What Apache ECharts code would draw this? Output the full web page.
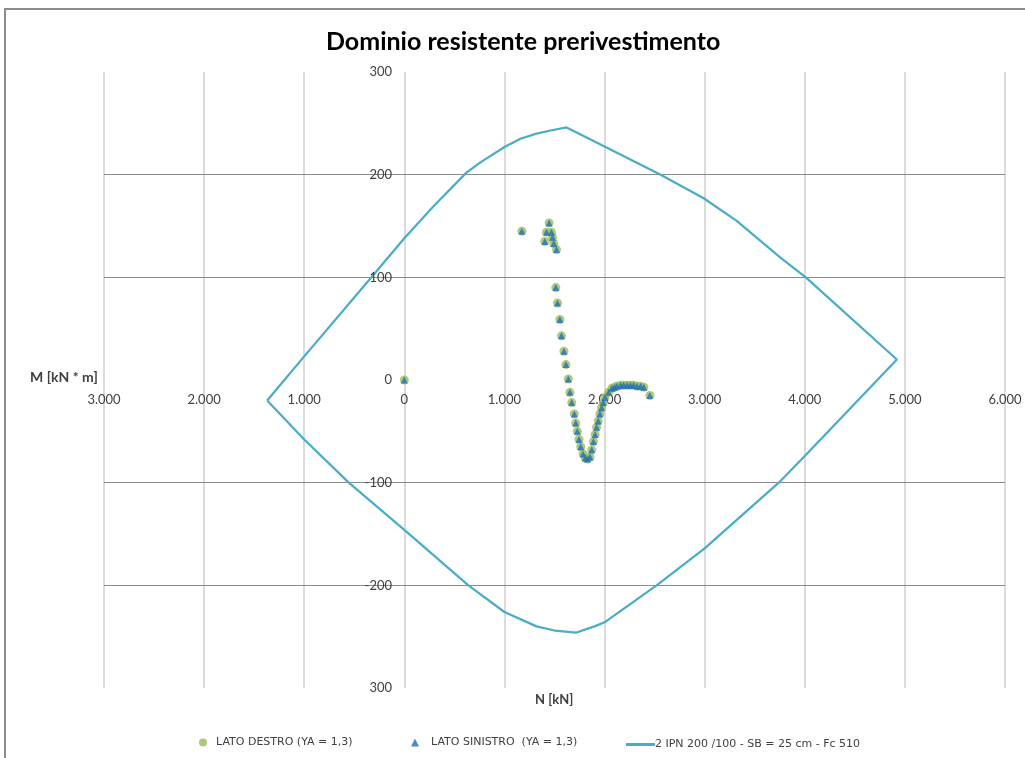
<!DOCTYPE html>
<html>
<head>
<meta charset="utf-8">
<script src="https://cdn.jsdelivr.net/npm/echarts@6/dist/echarts.min.js"></script>
<style>
  html, body { margin: 0; padding: 0; background: #fff; }
  #main { width: 1025px; height: 758px; }
</style>
</head>
<body>
<div id="main"></div>
<script>
// tick labels of the axes
var xTicks = [-3000, -2000, -1000, 0, 1000, 2000, 3000, 4000, 5000, 6000];
var yTicks = [-300, -200, -100, 0, 100, 200, 300];

// punti di verifica (N [kN], M [kN*m])
var latoN = [0, 1174, 1403, 1419, 1446, 1470, 1480, 1493, 1520,
  1513, 1530, 1554, 1570, 1594, 1614, 1638, 1654, 1672, 1698, 1712, 1728, 1745, 1762, 1785, 1808, 1830,
  1855, 1872, 1889, 1906, 1920, 1937, 1953, 1970, 1987, 2004, 2040, 2074, 2100, 2124, 2160, 2191, 2225,
  2258, 2290, 2325, 2360, 2393, 2453];
var latoM = [0, 145, 135, 144, 153, 144, 139, 133, 127,
  90, 75, 59, 43, 28, 15, 1, -12, -22, -33, -42, -50, -58, -65, -72, -76, -77,
  -75, -68, -60, -53, -46, -40, -33, -27, -22, -17, -12, -8, -7, -6, -5, -5, -5,
  -5, -5, -6, -6, -7, -15];

// dominio resistente (contorno chiuso)
var domN = [-1370, -1000, -320, 0, 280, 620, 760, 1000, 1160, 1320, 1460, 1620,
  1990, 2560, 2990, 3320, 3760, 4010, 4920,
  4010, 3740, 3000, 2520, 2000, 1900, 1720, 1500, 1320, 1000, 640, 0, -555, -1000, -1370];
var domM = [-20, 23, 101, 138, 168, 202, 212, 227, 235, 240, 243, 246,
  228, 200, 177, 155, 119, 100, 20,
  -73, -100, -164, -200, -236, -240, -246, -244, -240, -226, -200, -146, -100, -58, -20];

// linee orizzontali della griglia
var hLines = [200, 100, -100, -200];

var nomeDestro = 'LATO DESTRO (YA = 1,3)';
var nomeSinistro = 'LATO SINISTRO  (YA = 1,3)';
var nomeDominio = '2 IPN 200 /100 - SB = 25 cm - Fc 510';

function pairs(a, b) {
  var out = [];
  for (var i = 0; i < a.length; i++) out.push([a[i], b[i]]);
  return out;
}

function fmtN(v) {
  var s = String(Math.abs(v));
  if (s.length > 3) s = s.slice(0, s.length - 3) + '.' + s.slice(s.length - 3);
  return s;
}

var myChart = echarts.init(document.getElementById('main'));
var FONT = 'Lato, "Open Sans", sans-serif';
var LEG_FONT = '"DejaVu Sans", sans-serif';

// griglia: N=0 a x=404, M=0 a y=379
var G_LEFT = 104, G_TOP = 72, G_W = 901, G_H = 616;

var option = {
  animation: false,
  backgroundColor: '#fff',
  textStyle: { fontFamily: FONT },
  title: {
    text: 'Dominio resistente prerivestimento',
    left: 321,
    top: 24,
    textStyle: { fontSize: 25, fontWeight: 'bold', color: '#000', fontFamily: FONT }
  },
  graphic: [
    { type: 'rect', shape: { x: 5, y: 9, width: 1100, height: 800 }, style: { fill: 'none', stroke: '#8c8c8c', lineWidth: 2 }, silent: true },
    { type: 'text', left: 30, top: 370, style: { text: 'M [kN * m]', fontSize: 14, fontWeight: 'bold', fill: '#404040', fontFamily: FONT } },
    { type: 'text', left: 535, top: 693, style: { text: 'N [kN]', fontSize: 13, fontWeight: 'bold', fill: '#404040', fontFamily: FONT } }
  ],
  legend: [
    { data: [nomeDestro], left: 194, top: 732, itemWidth: 8, itemHeight: 8, icon: 'circle',
      textStyle: { fontSize: 11, color: '#404040', fontFamily: LEG_FONT, padding: [0, 0, 0, 4] } },
    { data: [nomeSinistro], left: 406, top: 732, itemWidth: 8, itemHeight: 8, icon: 'triangle',
      textStyle: { fontSize: 11, color: '#404040', fontFamily: LEG_FONT, padding: [0, 0, 0, 7] } },
    { data: [nomeDominio], left: 621, top: 734, itemWidth: 29, itemHeight: 3, icon: 'rect',
      textStyle: { fontSize: 11, color: '#404040', fontFamily: LEG_FONT, padding: [0, 0, 0, -5] } }
  ],
  grid: { left: G_LEFT, top: G_TOP, width: G_W, height: G_H, containLabel: false },
  xAxis: {
    type: 'value',
    position: 'bottom',
    offset: -(688 - 379),
    min: xTicks[0],
    max: xTicks[xTicks.length - 1],
    interval: 1000,
    axisLine: { show: false, onZero: false },
    axisTick: { show: false },
    axisLabel: { margin: 14, fontSize: 13, color: '#404040', formatter: fmtN, showMinLabel: true, showMaxLabel: true },
    splitLine: { show: true, lineStyle: { color: '#cfcfcf', width: 1.5 } }
  },
  yAxis: {
    type: 'value',
    position: 'left',
    offset: -(404 - 104),
    z: 8,
    min: yTicks[0],
    max: yTicks[yTicks.length - 1],
    interval: 100,
    axisLine: { show: false, onZero: false },
    axisTick: { show: false },
    axisLabel: { margin: 12, fontSize: 13, color: '#404040',
      formatter: function (v) { return v === yTicks[0] ? String(-v) : String(v); },
      showMinLabel: true, showMaxLabel: true },
    splitLine: { show: false }
  },
  series: [
    {
      name: nomeDominio,
      type: 'line',
      data: pairs(domN, domM),
      showSymbol: false,
      symbol: 'none',
      lineStyle: { color: '#4bacc6', width: 2.25 },
      itemStyle: { color: '#4bacc6' },
      z: 3,
      markLine: {
        silent: true,
        z: 1,
        symbol: ['none', 'none'],
        label: { show: false },
        lineStyle: { color: '#8a8a8a', type: 'solid', width: 1.2 },
        data: hLines.map(function (v) { return { yAxis: v }; })
      }
    },
    {
      name: nomeDestro,
      type: 'scatter',
      data: pairs(latoN, latoM),
      symbol: 'circle',
      symbolSize: 9,
      itemStyle: { color: '#9bbb59' },
      z: 4
    },
    {
      name: nomeSinistro,
      type: 'scatter',
      data: pairs(latoN, latoM),
      symbol: 'triangle',
      symbolSize: 7,
      itemStyle: { color: '#1f6fc0' },
      z: 5
    }
  ]
};

myChart.setOption(option);
</script>
</body>
</html>
